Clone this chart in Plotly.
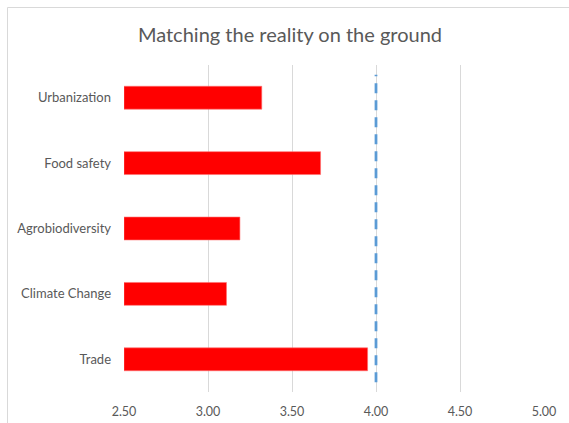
import plotly.graph_objects as go

categories = ["Urbanization", "Food safety", "Agrobiodiversity", "Climate Change", "Trade"]
scores = [3.32, 3.67, 3.19, 3.11, 3.95]
axis_start = 2.5
threshold = 4.0
x_ticks = [2.5, 3.0, 3.5, 4.0, 4.5, 5.0]
x_tick_labels = ["2.50", "3.00", "3.50", "4.00", "4.50", "5.00"]

W, H = 569, 423
L, R, T, B = 124, 25, 65, 31
pw, ph = W - L - R, H - T - B

def px_to_paper_x(px):
    return (px - L) / pw

def px_to_paper_y(py):
    return (H - B - py) / ph

fig = go.Figure()
fig.add_trace(go.Bar(
    y=categories, x=[v - axis_start for v in scores], base=axis_start,
    orientation="h",
    marker=dict(color="#FF0000", line=dict(color="#FF6F6F", width=0.6)),
    width=0.35, showlegend=False, hoverinfo="skip",
))

fig.add_trace(go.Scatter(
    x=[threshold, threshold], y=[0.03, 0.97], yaxis="y2", mode="lines",
    line=dict(color="#5B9BD5", width=2.75, dash="10px,7px"),
    showlegend=False, hoverinfo="skip",
))

fig.update_layout(
    width=W, height=H,
    margin=dict(l=L, r=R, t=T, b=B, autoexpand=False),
    paper_bgcolor="white", plot_bgcolor="white",
    font=dict(family="Lato", size=12, color="#595959"),
    title=dict(text="Matching the reality on the ground", x=290 / W, xref="container",
               xanchor="center", y=1 - 35 / H, yref="container", yanchor="middle",
               font=dict(family="Lato", size=20, color="#595959")),
    xaxis=dict(range=[2.5, 5.0], tickvals=x_ticks, ticktext=x_tick_labels,
               showgrid=True, gridcolor="#D9D9D9", gridwidth=1,
               zeroline=False, showline=False, ticks="", ticklabelstandoff=10,
               tickfont=dict(size=12.5), automargin=False, fixedrange=True),
    yaxis=dict(categoryorder="array", categoryarray=categories, autorange="reversed",
               showgrid=False, zeroline=False, showline=False, ticks="",
               ticklabelstandoff=12, tickfont=dict(size=13), automargin=False,
               fixedrange=True),
    yaxis2=dict(range=[0, 1], overlaying="y", visible=False, fixedrange=True),
    shapes=[dict(type="rect", xref="paper", yref="paper",
                 x0=px_to_paper_x(7.5), x1=px_to_paper_x(620),
                 y0=px_to_paper_y(460), y1=px_to_paper_y(7.5),
                 line=dict(color="#D9D9D9", width=1), fillcolor="rgba(0,0,0,0)",
                 layer="below")],
)

fig.write_html("out.html")
